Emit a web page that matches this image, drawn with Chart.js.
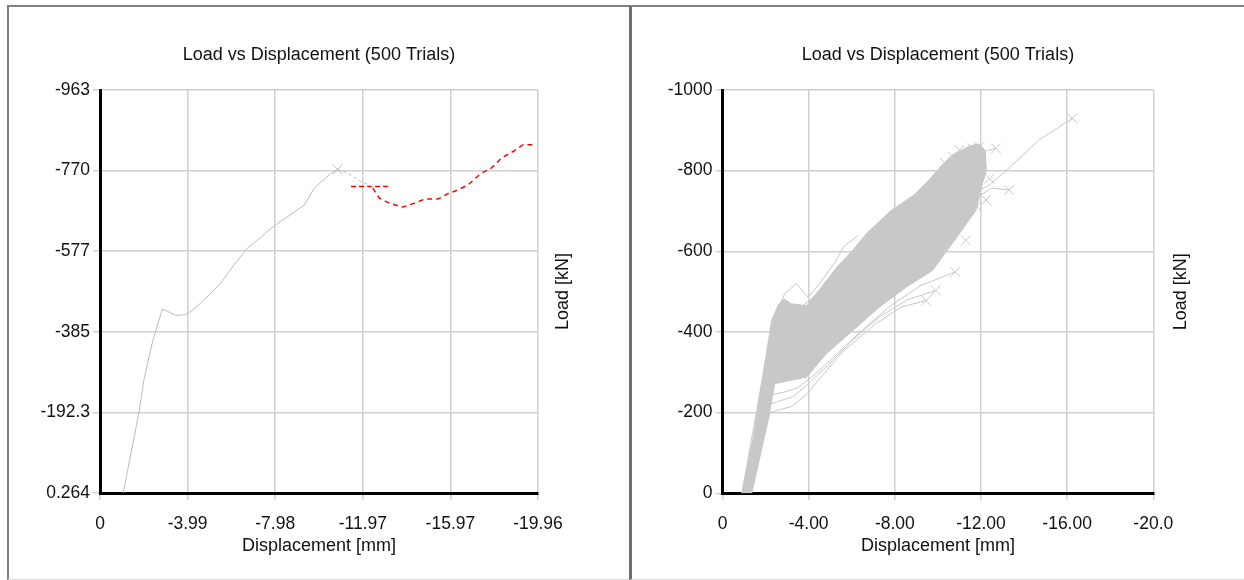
<!DOCTYPE html>
<html>
<head>
<meta charset="utf-8">
<script src="https://cdn.jsdelivr.net/npm/chart.js@4.4.1/dist/chart.umd.min.js"></script>
<style>
  body { margin: 0; background: #fff; width: 1244px; height: 580px; overflow: hidden; position: relative; }
  .panel { position: absolute; box-sizing: border-box; border-top: 2px solid #808080; border-bottom: 1px solid #dcdcdc; }
  #panelLeft { left: 7px; top: 5px; width: 622px; height: 575px; border-left: 2px solid #808080; }
  #panelRight { left: 629px; top: 5px; width: 615px; height: 575px; border-left: 3px solid #6e6e6e; }
  canvas { position: absolute; top: 0; }
  #leftChart { left: 0; }
  #rightChart { left: 632px; }
</style>
</head>
<body>
<div class="panel" id="panelLeft"></div>
<div class="panel" id="panelRight"></div>
<canvas id="leftChart" width="630" height="580"></canvas>
<canvas id="rightChart" width="612" height="580"></canvas>
<script>
// --- Left chart: one trial ---
const leftXTicks = [0, -3.9915, -7.983, -11.9745, -15.966, -19.9575];
const leftXLabels = ['0', '-3.99', '-7.98', '-11.97', '-15.97', '-19.96'];
const leftYTicks = [0.264, -192.34, -384.94, -577.54, -770.14, -962.74];
const leftYLabels = ['0.264', '-192.3', '-385', '-577', '-770', '-963'];

const leftGrayDisp = [-1.06, -1.77, -2.0, -2.38, -2.58, -2.84, -3.07, -3.45, -3.9, -4.21, -4.59, -5.2, -5.5, -6.11, -6.72, -7.33, -7.94, -8.55, -9.31, -9.76, -10.53, -10.83];
const leftGrayLoad = [0, -191, -270, -358, -394, -439, -434, -424, -426, -436, -454, -485, -501, -545, -585, -611, -638, -660, -688, -728, -764, -773];

const leftTailDisp = [-10.83, -11.29, -11.89, -12.43];
const leftTailLoad = [-773, -764, -744, -732];

const redFlatDisp = [-11.44, -13.26];
const redFlatLoad = [-732, -732];

const redCurveDisp = [-12.43, -12.73, -13.19, -13.8, -14.33, -14.79, -15.4, -15.85, -16.31, -16.77, -17.37, -17.83, -18.29, -18.89, -19.28, -19.74];
const redCurveLoad = [-728, -704, -692, -683, -692, -702, -702, -715, -724, -736, -764, -776, -800, -818, -832, -832];

// --- Right chart: 500 trials ---
const rightXTicks = [0, -4, -8, -12, -16, -20];
const rightXLabels = ['0', '-4.00', '-8.00', '-12.00', '-16.00', '-20.0'];
const rightYTicks = [0, -200, -400, -600, -800, -1000];
const rightYLabels = ['0', '-200', '-400', '-600', '-800', '-1000'];

// outline of the dense bundle of curves
const bandUpperDisp = [-0.89, -1.43, -1.89, -2.28, -2.6, -2.85, -3.2, -3.9, -4.5, -5.3, -6.0, -6.7, -7.8, -8.9, -9.6, -10.1, -10.7, -11.5, -11.9];
const bandUpperLoad = [0, -139, -296, -429, -468, -482, -470, -465, -505, -560, -600, -645, -700, -740, -778, -808, -840, -862, -866];
const bandLowerDisp = [-12.2, -12.25, -12.07, -11.77, -11.0, -9.76, -8.53, -7.29, -6.06, -4.82, -3.9, -2.43, -2.2, -1.35];
const bandLowerLoad = [-850, -800, -768, -702, -644, -553, -511, -462, -404, -346, -288, -272, -205, 0];

// single trials that stand out of the bundle
const trialFarDisp = [-1.1, -2.4, -3.5, -5.0, -6.5, -8.0, -9.5, -11.0, -12.4, -13.45, -14.7, -16.24];
const trialFarLoad = [0, -420, -455, -520, -590, -650, -700, -730, -764, -814, -876, -930];
const trialMidDisp = [-1.2, -2.4, -4.0, -6.0, -8.0, -10.0, -12.0, -12.5, -13.31];
const trialMidLoad = [0, -400, -440, -520, -600, -680, -740, -757, -752];
const trialTopDisp = [-11.3, -11.8, -12.3, -12.69];
const trialTopLoad = [-820, -835, -850, -855];
const trialLow1Disp = [-1.35, -2.2, -2.5, -3.2, -3.9, -4.6, -5.6, -7.1, -8.3, -9.45];
const trialLow1Load = [0, -200, -205, -215, -245, -290, -352, -420, -462, -478];
const trialLow2Disp = [-1.3, -2.25, -2.6, -3.3, -4.0, -4.9, -6.0, -7.3, -8.6, -9.9];
const trialLow2Load = [0, -222, -228, -240, -272, -318, -378, -438, -480, -503];
const trialLow3Disp = [-1.25, -2.3, -2.8, -3.5, -4.3, -5.3, -6.5, -7.8, -9.2, -10.8];
const trialLow3Load = [0, -245, -250, -262, -295, -345, -405, -465, -515, -549];
const trialPeakDisp = [-0.9, -1.9, -2.5, -2.89, -3.43, -3.97, -4.51, -5.29, -5.6, -6.3];
const trialPeakLoad = [0, -300, -450, -495, -520, -486, -520, -578, -610, -640];

// end-of-trial markers along the edge of the bundle
const trialEndDisp = [-10.69, -11.0, -11.61, -11.92, -12.23, -11.8, -11.3, -10.3, -10.0, -12.4];
const trialEndLoad = [-834, -851, -855, -859, -727, -712, -627, -820, -790, -780];

const GRAY = '#c8c8c8';
const FONT = '"Liberation Sans", Arial, sans-serif';
const TITLE = 'Load vs Displacement (500 Trials)';
Chart.defaults.font.family = FONT;
Chart.defaults.color = '#111';

function pts(xs, ys) {
  return xs.map((x, i) => ({ x: x, y: ys[i] }));
}

function trial(xs, ys, color, dash) {
  const n = xs.length;
  return {
    data: pts(xs, ys),
    borderColor: color,
    borderWidth: 1,
    borderDash: dash || [],
    pointStyle: 'crossRot',
    pointRadius: ctx => ctx.dataIndex === n - 1 ? 7 : 0,
    pointBorderColor: color,
    pointBorderWidth: 1,
    fill: false,
    tension: 0
  };
}

// chart title centred over the plot, y title on the right reading upwards
const titlesPlugin = {
  id: 'titles',
  afterDraw(chart, args, opts) {
    const { ctx, chartArea } = chart;
    const midX = (chartArea.left + chartArea.right) / 2;
    const midY = (chartArea.top + chartArea.bottom) / 2;
    ctx.save();
    ctx.font = '18px ' + FONT;
    ctx.fillStyle = '#111';
    ctx.textAlign = 'center';
    ctx.textBaseline = 'middle';
    ctx.fillText(opts.title, midX, 55);
    ctx.translate(chartArea.right + opts.offset, midY);
    ctx.rotate(-Math.PI / 2);
    ctx.fillText(opts.yText, 0, 0);
    ctx.restore();
  }
};

function makeOptions(cfg) {
  return {
    responsive: false,
    animation: false,
    events: [],
    layout: { padding: { left: 0, right: cfg.padRight, top: 90, bottom: 0 } },
    plugins: {
      legend: { display: false },
      tooltip: { enabled: false },
      title: { display: false },
      titles: { title: TITLE, yText: 'Load [kN]', offset: cfg.titleOffset }
    },
    scales: {
      x: {
        type: 'linear',
        reverse: true,
        min: cfg.xTicks[cfg.xTicks.length - 1],
        max: cfg.xTicks[0],
        afterBuildTicks: scale => { scale.ticks = cfg.xTicks.map(v => ({ value: v })); },
        afterFit: scale => { scale.height = cfg.xHeight; },
        ticks: {
          callback: (v, i) => cfg.xLabels[i],
          font: { size: 17.5 },
          padding: 13.5,
          maxRotation: 0,
          autoSkip: false
        },
        grid: { color: '#d0d0d0', lineWidth: 1.5, tickLength: 7 },
        border: { color: '#000', width: 3 },
        title: {
          display: true,
          text: 'Displacement [mm]',
          font: { size: 18 },
          padding: { top: 0, bottom: 23.2 }
        }
      },
      y: {
        type: 'linear',
        reverse: true,
        min: cfg.yTicks[cfg.yTicks.length - 1],
        max: cfg.yTicks[0],
        afterBuildTicks: scale => { scale.ticks = cfg.yTicks.map(v => ({ value: v })); },
        afterFit: scale => { scale.width = cfg.yWidth; },
        ticks: {
          callback: (v, i) => cfg.yLabels[i],
          font: { size: 17.5 },
          padding: 3,
          autoSkip: false
        },
        grid: { color: '#d0d0d0', lineWidth: 1.5, tickLength: 7 },
        border: { color: '#000', width: 3 }
      }
    }
  };
}

new Chart(document.getElementById('leftChart'), {
  type: 'line',
  data: {
    datasets: [
      trial(leftGrayDisp, leftGrayLoad, '#bdbdbd'),
      Object.assign(trial(leftTailDisp, leftTailLoad, '#bdbdbd', [3, 3]), { pointRadius: 0 }),
      Object.assign(trial(redFlatDisp, redFlatLoad, '#ff0000', [5, 3]), { pointRadius: 0, borderWidth: 1.5 }),
      Object.assign(trial(redCurveDisp, redCurveLoad, '#ff0000', [5, 4]), { pointRadius: 0, borderWidth: 1.5 })
    ]
  },
  options: makeOptions({
    xTicks: leftXTicks, xLabels: leftXLabels,
    yTicks: leftYTicks, yLabels: leftYLabels,
    yWidth: 100, xHeight: 87, padRight: 92, titleOffset: 25
  }),
  plugins: [titlesPlugin]
});

new Chart(document.getElementById('rightChart'), {
  type: 'line',
  data: {
    datasets: [
      {
        data: pts(bandUpperDisp.concat(bandLowerDisp), bandUpperLoad.concat(bandLowerLoad)),
        borderColor: GRAY,
        borderWidth: 1,
        backgroundColor: GRAY,
        pointRadius: 0,
        fill: 'shape',
        tension: 0
      },
      trial(trialFarDisp, trialFarLoad, GRAY),
      trial(trialMidDisp, trialMidLoad, GRAY),
      trial(trialTopDisp, trialTopLoad, GRAY),
      trial(trialLow1Disp, trialLow1Load, GRAY),
      trial(trialLow2Disp, trialLow2Load, GRAY),
      trial(trialLow3Disp, trialLow3Load, GRAY),
      Object.assign(trial(trialPeakDisp, trialPeakLoad, GRAY), { pointRadius: 0 }),
      {
        data: pts(trialEndDisp, trialEndLoad),
        showLine: false,
        pointStyle: 'crossRot',
        pointRadius: 7,
        pointBorderColor: GRAY,
        pointBorderWidth: 1
      }
    ]
  },
  options: makeOptions({
    xTicks: rightXTicks, xLabels: rightXLabels,
    yTicks: rightYTicks, yLabels: rightYLabels,
    yWidth: 90.5, xHeight: 86.7, padRight: 90.7, titleOffset: 28
  }),
  plugins: [titlesPlugin]
});
</script>
</body>
</html>
